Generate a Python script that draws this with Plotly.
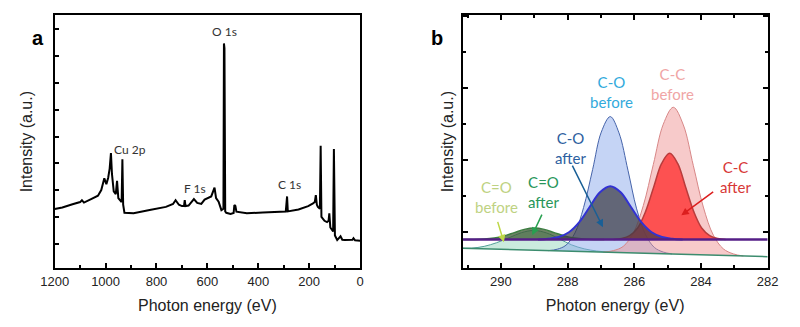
import plotly.graph_objects as go

# ---------------- Panel a: survey spectrum ----------------
survey_energy = [1200, 1170, 1130, 1100, 1093, 1085, 1055, 1030, 1017, 1005, 997, 990, 984, 979, 975,
                 968, 960, 955, 950, 940, 937, 934, 931, 926, 890, 827, 763, 735, 725, 712, 700, 692,
                 689, 686, 674, 653, 640, 624, 611, 585, 576, 572, 566, 556, 545, 538, 537, 535, 533,
                 530, 526, 509, 497, 494, 490, 486, 445, 382, 318, 292, 287, 284, 242, 204, 185, 178,
                 174, 170, 166, 158, 155, 152, 140, 130, 124, 121, 117, 106, 103, 99, 90, 77, 70, 60,
                 30, 26, 20, 7, 0]
survey_intensity = [2.29, 2.35, 2.47, 2.55, 2.62, 2.53, 2.67, 2.79, 3.00, 3.44, 3.22, 3.45, 3.80, 4.38, 3.60,
                    2.95, 2.85, 3.34, 2.70, 2.55, 2.55, 4.15, 2.45, 2.15, 2.13, 2.25, 2.37, 2.48, 2.62, 2.45,
                    2.40, 2.40, 2.62, 2.40, 2.42, 2.66, 2.52, 2.48, 2.64, 2.76, 2.95, 3.09, 2.70, 2.56, 2.25,
                    2.28, 2.30, 8.48, 8.30, 2.20, 2.15, 2.11, 2.14, 2.44, 2.40, 2.19, 2.13, 2.16, 2.19, 2.20,
                    2.76, 2.20, 2.27, 2.40, 2.50, 2.55, 2.81, 2.45, 2.37, 2.30, 4.65, 2.00, 1.85, 1.80, 1.85,
                    2.13, 1.60, 1.45, 4.53, 1.30, 1.13, 1.27, 1.14, 1.13, 1.14, 1.20, 1.12, 1.10, 1.10]
survey_labels = ["Cu 2p", "F 1s", "O 1s", "C 1s"]
survey_label_x = [903, 649, 532, 278]
survey_label_y = [4.53, 3.06, 8.91, 3.22]

# ---------------- Panel b: C 1s components ----------------
base_before_x = [291.15, 282.0]
base_before_y = [0.556, 0.324]
base_after_x = [291.15, 282.0]
base_after_y = [0.80, 0.80]

cc_before_x = [282.73, 283.03, 283.33, 283.63, 283.93, 284.23, 284.53, 284.83, 285.13, 285.43, 285.73,
               286.03, 286.33, 286.63, 286.93]
cc_before_y = [0.34, 0.40, 0.54, 0.92, 1.70, 2.85, 3.98, 4.47, 4.00, 2.88, 1.74, 0.98, 0.61, 0.49, 0.45]

co_before_x = [284.87, 285.13, 285.40, 285.66, 285.93, 286.19, 286.46, 286.72, 286.99, 287.25, 287.52,
               287.78, 288.05, 288.31, 288.58]
co_before_y = [0.40, 0.45, 0.58, 0.93, 1.65, 2.72, 3.76, 4.21, 3.78, 2.74, 1.69, 0.98, 0.64, 0.53, 0.49]

cdo_before_x = [286.38, 286.75, 287.13, 287.50, 287.88, 288.25, 288.63, 289.00, 289.38, 289.75, 290.13,
                290.50, 290.88, 291.25, 291.63]
cdo_before_y = [0.44, 0.45, 0.48, 0.54, 0.65, 0.82, 0.98, 1.05, 0.99, 0.85, 0.71, 0.61, 0.56, 0.56, 0.57]

cc_after_x = [283.26, 283.50, 283.74, 283.98, 284.22, 284.46, 284.70, 284.94, 285.18, 285.42, 285.66,
              285.90, 286.14, 286.38, 286.62]
cc_after_y = [0.80, 0.83, 0.91, 1.12, 1.58, 2.25, 2.91, 3.19, 2.91, 2.25, 1.58, 1.12, 0.91, 0.83, 0.80]

co_after_x = [284.55, 284.86, 285.17, 285.48, 285.79, 286.10, 286.41, 286.72, 287.03, 287.34, 287.65,
              287.96, 288.27, 288.58, 288.89]
co_after_y = [0.80, 0.82, 0.87, 1.00, 1.28, 1.70, 2.11, 2.28, 2.11, 1.70, 1.28, 1.00, 0.87, 0.82, 0.80]

cdo_after_x = [286.9, 287.2, 287.5, 287.8, 288.1, 288.4, 288.7, 289.0, 289.3, 289.6, 289.9, 290.2,
               290.5, 290.8, 291.1]
cdo_after_y = [0.80, 0.80, 0.81, 0.84, 0.90, 0.99, 1.08, 1.12, 1.08, 0.99, 0.90, 0.84, 0.81, 0.80, 0.80]

comp_labels = ["C-O<br>before", "C-C<br>before", "C-O<br>after", "C=O<br>after", "C=O<br>before", "C-C<br>after"]
comp_label_x = [286.68, 284.85, 287.90, 288.72, 290.14, 282.96]
comp_label_y = [4.89, 5.11, 3.35, 2.11, 1.97, 2.53]
comp_label_colors = ["rgb(50,170,220)", "rgb(240,165,165)", "rgb(45,95,160)", "rgb(40,150,90)",
                     "rgb(190,210,130)", "rgb(215,55,55)"]

arrow_tail_x = [287.88, 288.75, 290.11, 283.59]
arrow_tail_y = [2.89, 1.53, 1.33, 2.15]
arrow_head_x = [286.94, 289.06, 289.91, 284.59]
arrow_head_y = [1.14, 0.92, 0.72, 1.47]
arrow_colors = ["rgb(25,95,150)", "rgb(40,160,80)", "rgb(190,215,70)", "rgb(220,30,30)"]

fig = go.Figure()

# Panel a trace
fig.add_trace(go.Scatter(x=survey_energy, y=survey_intensity, mode="lines",
                         line=dict(color="black", width=2), xaxis="x", yaxis="y",
                         showlegend=False, hoverinfo="skip"))


def comp(x, y, fill, line, width):
    fig.add_trace(go.Scatter(x=x, y=y, mode="lines", fill="toself", fillcolor=fill,
                             line=dict(color=line, width=width, shape="spline", smoothing=1),
                             xaxis="x2", yaxis="y2", showlegend=False, hoverinfo="skip"))


# before components
comp(cdo_before_x, cdo_before_y, "rgba(150,215,190,0.5)", "rgb(80,160,150)", 1)
comp(co_before_x, co_before_y, "rgba(140,170,235,0.5)", "rgb(70,100,170)", 1)
comp(cc_before_x, cc_before_y, "rgba(240,150,150,0.5)", "rgb(215,135,135)", 1)
fig.add_trace(go.Scatter(x=base_before_x, y=base_before_y, mode="lines",
                         line=dict(color="rgb(60,140,110)", width=1.5),
                         xaxis="x2", yaxis="y2", showlegend=False, hoverinfo="skip"))
# after components
comp(cdo_after_x, cdo_after_y, "rgba(60,90,50,0.75)", "rgb(60,125,65)", 1.5)
comp(cc_after_x, cc_after_y, "rgba(255,40,40,0.75)", "rgb(185,60,60)", 1.5)
comp(co_after_x, co_after_y, "rgba(60,60,70,0.72)", "rgb(50,50,210)", 2)
fig.add_trace(go.Scatter(x=base_after_x, y=base_after_y, mode="lines",
                         line=dict(color="rgb(85,30,135)", width=2.5),
                         xaxis="x2", yaxis="y2", showlegend=False, hoverinfo="skip"))

annotations = []
for t, x, y in zip(survey_labels, survey_label_x, survey_label_y):
    annotations.append(dict(text=t, x=x, y=y, xref="x", yref="y", showarrow=False,
                            font=dict(family="Lato", size=12, color="#333")))
for t, x, y, c in zip(comp_labels, comp_label_x, comp_label_y, comp_label_colors):
    annotations.append(dict(text=t, x=x, y=y, xref="x2", yref="y2", showarrow=False,
                            font=dict(family="Lato", size=15, color=c)))
for tx, ty, hx, hy, c in zip(arrow_tail_x, arrow_tail_y, arrow_head_x, arrow_head_y, arrow_colors):
    annotations.append(dict(text="", x=hx, y=hy, ax=tx, ay=ty, xref="x2", yref="y2",
                            axref="x2", ayref="y2", showarrow=True, arrowhead=2,
                            arrowsize=1, arrowwidth=1.5, arrowcolor=c, standoff=0, startstandoff=0))
annotations.append(dict(text="<b>a</b>", x=16 / 800, y=302 / 327, xref="paper", yref="paper",
                        showarrow=False, font=dict(family="Liberation Sans", size=20, color="black")))
annotations.append(dict(text="<b>b</b>", x=437 / 800, y=302 / 327, xref="paper", yref="paper",
                        showarrow=False, font=dict(family="Liberation Sans", size=20, color="black")))

axis_font = dict(family="Liberation Sans", size=13, color="#222")
title_font = dict(family="Liberation Sans", size=16, color="#222")

fig.update_layout(
    width=800, height=327,
    margin=dict(l=0, r=0, t=0, b=0),
    paper_bgcolor="white", plot_bgcolor="white",
    annotations=annotations,
    xaxis=dict(domain=[0.0525, 0.4466], range=[1200, 0], tick0=0, dtick=200,
               ticks="inside", ticklen=5, tickwidth=1.5, tickcolor="black",
               minor=dict(dtick=100, ticks="inside", ticklen=3, tickcolor="black"),
               showline=True, linewidth=2, linecolor="black", mirror=True,
               showgrid=False, zeroline=False, tickfont=axis_font,
               title=dict(text="Photon energy (eV)", font=title_font, standoff=12)),
    yaxis=dict(domain=[0.1795, 0.9541], range=[0.075, 9.54], tick0=1, dtick=1,
               ticks="inside", ticklen=4, tickwidth=1.5, tickcolor="black",
               showticklabels=False, showline=True, linewidth=2, linecolor="black", mirror=True,
               showgrid=False, zeroline=False,
               title=dict(text="Intensity (a.u.)", font=title_font, standoff=16)),
    xaxis2=dict(domain=[0.5788, 0.9725], range=[291.15, 282], tick0=282, dtick=2, anchor="y2",
                ticks="inside", ticklen=5, tickwidth=1.5, tickcolor="black",
                minor=dict(dtick=1, ticks="inside", ticklen=3, tickcolor="black"),
                showline=True, linewidth=2, linecolor="black", mirror="ticks",
                showgrid=False, zeroline=False, tickfont=axis_font,
                title=dict(text="Photon energy (eV)", font=title_font, standoff=12)),
    yaxis2=dict(domain=[0.1795, 0.9541], range=[0, 7.03], tick0=1, dtick=2, anchor="x2",
                ticks="inside", ticklen=5, tickwidth=1.5, tickcolor="black",
                minor=dict(dtick=1, ticks="inside", ticklen=3, tickcolor="black"),
                showticklabels=False, showline=True, linewidth=2, linecolor="black", mirror="ticks",
                showgrid=False, zeroline=False,
                title=dict(text="Intensity (a.u.)", font=title_font, standoff=3)),
)

fig.write_html("out.html")
